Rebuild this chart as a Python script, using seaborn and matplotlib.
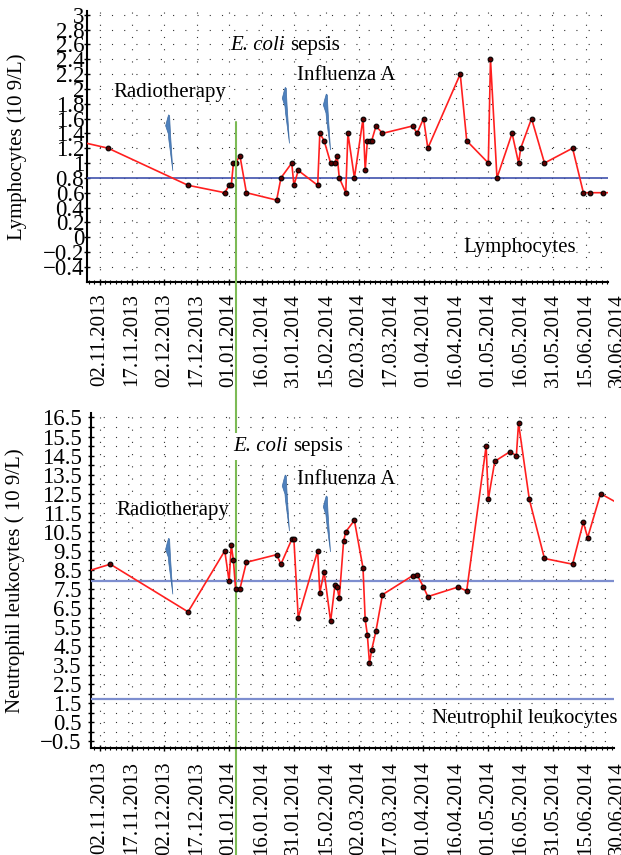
import matplotlib
matplotlib.use('Agg')
import matplotlib.pyplot as plt
import matplotlib.dates as mdates
import matplotlib.transforms as mtransforms
from matplotlib.patches import Polygon
from matplotlib.lines import Line2D
from matplotlib.ticker import FixedLocator, FuncFormatter
import numpy as np
import pandas as pd
import seaborn as sns

# lymphocytes (top panel)
lymph_dates = ['25.10.2013', '06.11.2013', '13.12.2013', '30.12.2013', '01.01.2014',
               '02.01.2014', '03.01.2014', '04.01.2014', '06.01.2014', '09.01.2014',
               '23.01.2014', '25.01.2014', '30.01.2014', '31.01.2014', '02.02.2014',
               '11.02.2014', '12.02.2014', '14.02.2014', '17.02.2014', '19.02.2014',
               '20.02.2014', '21.02.2014', '24.02.2014', '25.02.2014', '28.02.2014',
               '04.03.2014', '05.03.2014', '06.03.2014', '07.03.2014', '08.03.2014',
               '10.03.2014', '13.03.2014', '27.03.2014', '29.03.2014', '01.04.2014',
               '03.04.2014', '18.04.2014', '21.04.2014', '01.05.2014', '02.05.2014',
               '05.05.2014', '12.05.2014', '15.05.2014', '16.05.2014', '21.05.2014',
               '27.05.2014', '09.06.2014', '14.06.2014', '17.06.2014', '23.06.2014',
               '28.06.2014']
lymph_values = [1.28, 1.2, 0.7, 0.6, 0.7, 0.7, 1.0, 1.0, 1.1, 0.6,
                0.5, 0.8, 1.0, 0.7, 0.9, 0.7, 1.4, 1.3, 1.0, 1.0,
                1.1, 0.8, 0.6, 1.4, 0.8, 1.6, 0.9, 1.3, 1.3, 1.3,
                1.5, 1.4, 1.5, 1.4, 1.6, 1.2, 2.2, 1.3, 1.0, 2.4,
                0.8, 1.4, 1.0, 1.2, 1.6, 1.0, 1.2, 0.6, 0.6, 0.6,
                0.6]
lymph_ref = [0.8]

# neutrophil leukocytes (bottom panel)
neut_dates = ['25.10.2013', '07.11.2013', '13.12.2013', '30.12.2013', '01.01.2014',
              '02.01.2014', '03.01.2014', '04.01.2014', '06.01.2014', '09.01.2014',
              '23.01.2014', '25.01.2014', '30.01.2014', '31.01.2014', '02.02.2014',
              '11.02.2014', '12.02.2014', '14.02.2014', '17.02.2014', '19.02.2014',
              '20.02.2014', '21.02.2014', '23.02.2014', '24.02.2014', '28.02.2014',
              '04.03.2014', '05.03.2014', '06.03.2014', '07.03.2014', '08.03.2014',
              '10.03.2014', '13.03.2014', '27.03.2014', '29.03.2014', '01.04.2014',
              '03.04.2014', '17.04.2014', '21.04.2014', '30.04.2014', '01.05.2014',
              '04.05.2014', '11.05.2014', '14.05.2014', '15.05.2014', '20.05.2014',
              '27.05.2014', '09.06.2014', '14.06.2014', '16.06.2014', '22.06.2014',
              '30.06.2014']
neut_values = [8.35, 8.8, 6.3, 9.5, 7.9, 9.8, 9.0, 7.5, 7.5, 8.9,
               9.3, 8.8, 10.1, 10.1, 6.0, 9.5, 7.3, 8.4, 5.8, 7.7,
               7.6, 7.0, 10.0, 10.5, 11.1, 8.6, 5.9, 5.1, 3.6, 4.3,
               5.3, 7.2, 8.2, 8.25, 7.6, 7.1, 7.6, 7.4, 15.0, 12.2,
               14.2, 14.7, 14.5, 16.2, 12.2, 9.1, 8.8, 11.0, 10.2, 12.5,
               12.0]
neut_ref = [7.9, 1.7]

# events
event_names = ['Radiotherapy', 'E. coli sepsis', 'Influenza A']
event_dates = ['04.12.2013', '27.01.2014', '15.02.2014']
lymph_bolt_tops = [1.65, 2.02, 1.93]
neut_bolt_tops = [10.16, 13.48, 12.38]
green_date = '04.01.2014'

tick_step_days = 15
first_tick = pd.Timestamp('2013-11-02')

sns.set_theme(style='white')
plt.rcParams['font.family'] = ['Liberation Serif', 'DejaVu Serif']
plt.rcParams.update({'text.color': 'black', 'axes.labelcolor': 'black',
                     'xtick.color': 'black', 'ytick.color': 'black'})

FS = 15
XFS = 15
YFS = 16.5


def day(n):
    return first_tick + pd.Timedelta(days=n)


def num_fmt(v, pos=None):
    if abs(v) < 1e-9:
        return '0'
    return ('%g' % round(v, 2)).replace('-', '\u2212')


# small blue "lightning" marker, pixel offsets from its top point (y down)
bolt_shape = [(0, 0), (1.0, 1), (1.3, 8), (1.8, 18), (4.2, 56), (0.2, 25),
              (-0.3, 19), (-3.0, 11), (-1.2, 4)]


def draw_bolt(ax, date, value):
    x = mdates.date2num(date)
    trans = mtransforms.Affine2D().scale(1, -1) + \
        mtransforms.ScaledTranslation(x, value, ax.transData)
    ax.add_patch(Polygon(bolt_shape, closed=True, transform=trans,
                         facecolor='#4f81bd', edgecolor='#3d6ca5', lw=0.5,
                         zorder=3))


def style_axis(ax, xlim, ylim, yticks, yminor, xpad, ypad):
    ax.set_xlim(day(xlim[0]), day(xlim[1]))
    ax.set_ylim(*ylim)
    ax.xaxis.set_major_locator(FixedLocator(
        [mdates.date2num(day(tick_step_days * k)) for k in range(17)]))
    ax.xaxis.set_major_formatter(mdates.DateFormatter('%d.%m.%Y'))
    ax.xaxis.set_minor_locator(FixedLocator(
        [mdates.date2num(day(2.5 * k)) for k in range(-4, 100)]))
    ax.yaxis.set_major_locator(FixedLocator(yticks))
    ax.yaxis.set_major_formatter(FuncFormatter(num_fmt))
    if yminor is not None:
        ax.yaxis.set_minor_locator(FixedLocator(yminor))
    ax.tick_params(axis='x', which='major', direction='inout', length=4,
                   width=1, pad=xpad, labelsize=XFS, labelrotation=90,
                   bottom=True)
    ax.tick_params(axis='x', which='minor', direction='inout', length=2.5,
                   width=0.8, bottom=True)
    ax.tick_params(axis='y', which='both', direction='inout', length=4,
                   width=1, pad=ypad, labelsize=YFS, left=True)
    for s in ['top', 'right']:
        ax.spines[s].set_visible(False)
    for s in ['left', 'bottom']:
        ax.spines[s].set_color('black')
        ax.spines[s].set_linewidth(1.5)
    grid_kw = dict(color='#333333', linestyle=(0, (1, 10)), linewidth=0.8)
    ax.xaxis.grid(True, which='major', **grid_kw)
    ax.yaxis.grid(True, which='both' if yminor is not None else 'major',
                  **grid_kw)
    ax.set_xlabel('')
    # last date label sits past the right end of the axis
    ax.annotate('30.06.2014', xy=(mdates.date2num(day(240)), 0),
                xycoords=mtransforms.blended_transform_factory(ax.transData,
                                                               ax.transAxes),
                xytext=(0, -(xpad + 2)), textcoords='offset points',
                rotation=90, ha='center', va='top', fontsize=XFS,
                annotation_clip=False)


def sepsis_label(ax, x, y, boxed):
    bb = dict(facecolor='white', edgecolor='none', pad=3) if boxed else None
    t = ax.text(x, y, 'E. coli', style='italic', fontsize=FS,
                transform=ax.transAxes, va='baseline', bbox=bb, zorder=5)
    ax.annotate('sepsis', xy=(1, 0), xycoords=t, xytext=(4, 0),
                textcoords='offset points', va='bottom', ha='left',
                fontsize=FS, bbox=bb, zorder=5)


W, H = 621, 855
fig = plt.figure(figsize=(W / 100, H / 100), dpi=100)
ax1 = fig.add_axes([87 / W, 1 - 281.7 / H, 521 / W, 270.7 / H])
ax2 = fig.add_axes([91 / W, 1 - 747.7 / H, 523 / W, 335 / H])

line_kw = dict(color='#ff1f1f', linewidth=1.2, marker='o', markersize=3.4,
               markerfacecolor='#5a0000', markeredgecolor='black',
               markeredgewidth=0.8, estimator=None, sort=False, zorder=4)

lymph = pd.DataFrame({'date': pd.to_datetime(lymph_dates, format='%d.%m.%Y'),
                      'value': lymph_values})
neut = pd.DataFrame({'date': pd.to_datetime(neut_dates, format='%d.%m.%Y'),
                     'value': neut_values})
ev = pd.to_datetime(event_dates, format='%d.%m.%Y')

# top panel
sns.lineplot(data=lymph, x='date', y='value', ax=ax1, **line_kw)
for v in lymph_ref:
    ax1.axhline(v, color='#3f51ad', lw=1.2, zorder=3)
for d, v in zip(ev, lymph_bolt_tops):
    draw_bolt(ax1, d, v)
ax1.text(0.050, 0.682, 'Radiotherapy', fontsize=FS, transform=ax1.transAxes,
         va='baseline')
sepsis_label(ax1, 0.274, 0.856, False)
ax1.text(0.403, 0.745, 'Influenza A', fontsize=FS, transform=ax1.transAxes,
         va='baseline')
ax1.text(0.722, 0.110, 'Lymphocytes', fontsize=FS, transform=ax1.transAxes,
         va='baseline')
ax1.set_ylabel('Lymphocytes (10 9/L)', fontsize=FS)
ax1.yaxis.set_label_coords(-0.116, 0.5)
style_axis(ax1, (-5.79, 235.4), (-0.6, 3.05),
           np.round(np.arange(-0.4, 3.01, 0.2), 1), None, 6.1, 0)

# bottom panel
sns.lineplot(data=neut, x='date', y='value', ax=ax2, **line_kw)
for v in neut_ref:
    ax2.axhline(v, color='#7d8ecf', lw=1.6, zorder=3)
for d, v in zip(ev, neut_bolt_tops):
    draw_bolt(ax2, d, v)
ax2.text(0.048, 0.695, 'Radiotherapy', fontsize=FS, transform=ax2.transAxes,
         va='baseline')
sepsis_label(ax2, 0.2715, 0.886, True)
ax2.text(0.394, 0.787, 'Influenza A', fontsize=FS, transform=ax2.transAxes,
         va='baseline')
ax2.text(0.652, 0.074, 'Neutrophil leukocytes', fontsize=FS,
         transform=ax2.transAxes, va='baseline')
ax2.set_ylabel('Neutrophil leukocytes ( 10 9/L)', fontsize=FS)
ax2.yaxis.set_label_coords(-0.126, 0.5)
style_axis(ax2, (-3.94, 238.2), (-0.83, 16.75),
           np.arange(-0.5, 16.6, 1.0), np.arange(0, 17, 1.0), 7.6, 4.7)

# green vertical marker running through both panels
gx = mdates.date2num(pd.to_datetime(green_date, format='%d.%m.%Y'))
gtrans = mtransforms.blended_transform_factory(ax2.transData, fig.transFigure)
ax2.add_line(Line2D([gx, gx], [1 - 122 / H, 0], transform=gtrans,
                    color='#7cba55', lw=1.5, clip_on=False, zorder=2))
ax2.set_xlim(day(-3.94), day(238.2))
ax2.set_ylim(-0.83, 16.75)

fig.savefig('out.png', dpi=100)
